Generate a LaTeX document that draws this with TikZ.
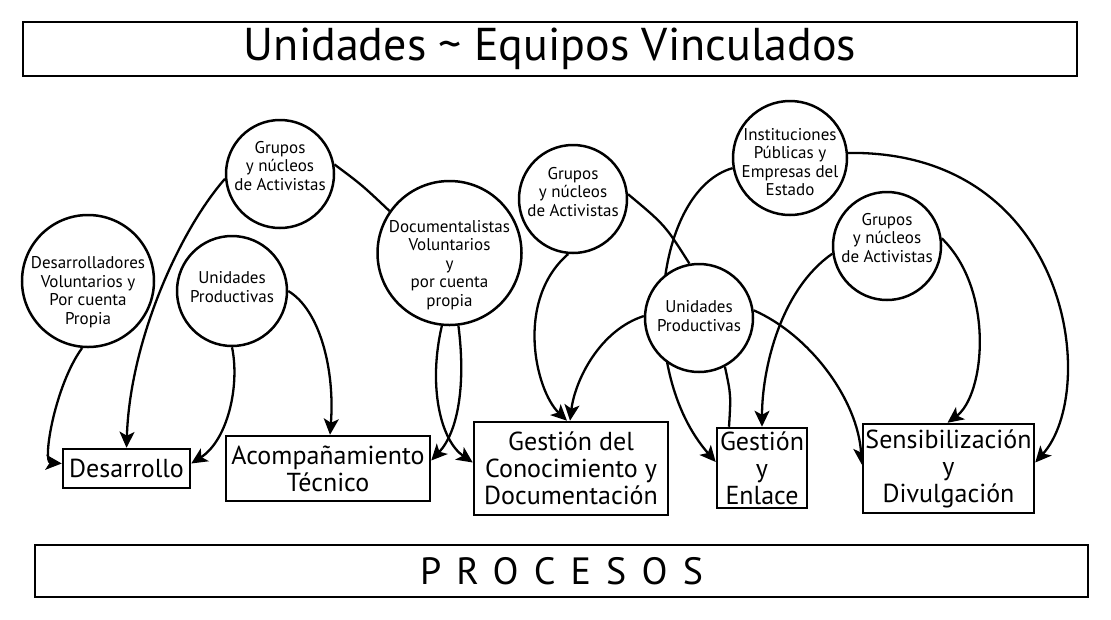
\documentclass[tikz,border=0pt]{standalone}
\usepackage{fontspec}
\setmainfont{PT Sans}
\usetikzlibrary{arrows.meta}
\pgfdeclarelayer{bg}
\pgfsetlayers{bg,main}
\begin{document}
\begin{tikzpicture}[x=1pt,y=-1pt,
  unitc/.style={circle,draw,line width=2.5pt,fill=white,inner sep=0pt,minimum size=#1},
  unittext/.style={align=center,inner sep=0pt,font=\fontsize{17}{18.6}\selectfont},
  procbox/.style={draw,line width=2.5pt,fill=white,align=center,inner sep=0pt,font=\fontsize{26}{27}\selectfont},
  band/.style={draw,line width=2.5pt,fill=white,inner sep=0pt},
  link/.style={line width=2.3pt,-{Stealth[length=16pt,width=15pt,inset=4pt]}},
  plainlink/.style={line width=2.3pt}]
\useasboundingbox (0,0) rectangle (1111,619);
% bands
\node[band,minimum width=1054pt,minimum height=54pt,font=\fontsize{46}{48}\selectfont] (title) at (550,49) {Unidades \textasciitilde{} Equipos Vinculados};
\node[band,minimum width=1053pt,minimum height=52pt,font=\fontsize{38}{40}\selectfont\addfontfeatures{LetterSpace=40}] (proc) at (561.5,571) {PROCESOS};
% process boxes
\node[procbox,minimum width=127pt,minimum height=39pt] (des) at (126.5,468.5) {Desarrollo};
\node[procbox,minimum width=204pt,minimum height=65pt] (aco) at (328,468.5) {Acompañamiento\\Técnico};
\node[procbox,minimum width=194pt,minimum height=93pt] (gc) at (571,468.5) {Gestión del\\Conocimiento y\\Documentación};
\node[procbox,minimum width=90pt,minimum height=80pt] (ge) at (762,468) {Gestión\\y\\Enlace};
\node[procbox,minimum width=171pt,minimum height=89pt] (sen) at (948.5,468.5) {Sensibilización\\y\\Divulgación};
% unit circles and their texts
\node[unitc=108pt] (g1) at (280,174) {};
\node[unittext] (g1t) at (280,166) {Grupos\\y núcleos\\de Activistas};
\node[unitc=132pt] (dv) at (88,281) {};
\node[unittext] (dvt) at (88,292) {Desarrolladores\\Voluntarios y\\Por cuenta\\Propia};
\node[unitc=110pt] (up1) at (232,291) {};
\node[unittext] (up1t) at (232,287) {Unidades\\Productivas};
\node[unitc=144pt] (doc) at (449.5,253) {};
\node[unittext] (doct) at (449.5,265) {Documentalistas\\Voluntarios\\y\\por cuenta\\propia};
\node[unitc=108pt] (g2) at (573,199) {};
\node[unittext] (g2t) at (573,192) {Grupos\\y núcleos\\de Activistas};
\node[unitc=114pt] (inst) at (790,158) {};
\node[unittext] (instt) at (790,162) {Instituciones\\Públicas y\\Empresas del\\Estado};
\node[unitc=108pt] (g3) at (887,246) {};
\node[unittext] (g3t) at (887,238) {Grupos\\y núcleos\\de Activistas};
\node[unitc=108pt] (up2) at (699,318) {};
\node[unittext] (up2t) at (699,316) {Unidades\\Productivas};
% connectors, behind the circles
\begin{pgfonlayer}{bg}
\fill[white] (0,0) rectangle (1111,619);
\draw[link] (dv.265) .. controls (55,385) and (42,462) .. ([yshift=5pt]des.west);
\draw[link] (g1.185) .. controls (180,230) and (130,340) .. (des.north);
\draw[link] (up1.270) .. controls (240,385) and (228,440) .. ([yshift=5pt]des.east);
\draw[link] (up1.0) .. controls (320,310) and (335,370) .. ([xshift=2pt]aco.north);
\draw[plainlink] (g1.10) .. controls (362,185) .. (doc.145);
\draw[link] (doc.264) .. controls (428,385) and (440,440) .. ([yshift=6pt]gc.west);
\draw[link] (doc.277) .. controls (466,385) and (458,432) .. ([yshift=8pt]aco.east);
\draw[link] (g2.265) .. controls (515,300) and (535,390) .. ([xshift=-4pt]gc.north);
\draw[plainlink] (g2.5) .. controls (665,225) .. (up2.100);
\draw[link] (up2.178) .. controls (600,330) and (575,380) .. ([xshift=-1pt]gc.north);
\draw[link] (inst.190) .. controls (655,190) and (635,370) .. ([yshift=6pt]ge.west);
\draw[plainlink] (up2.-62) .. controls (731,395) .. ([xshift=-33pt]ge.north);
\draw[link] (up2.8) .. controls (810,335) and (858,400) .. ([yshift=4pt]sen.west);
\draw[link] (g3.188) .. controls (780,290) and (762,370) .. (ge.north);
\draw[link] (g3.8) .. controls (995,290) and (985,395) .. ([xshift=-1pt]sen.north);
\draw[link] (inst.5) .. controls (1070,150) and (1100,390) .. ([yshift=6pt]sen.east);
\end{pgfonlayer}
\end{tikzpicture}
\end{document}
